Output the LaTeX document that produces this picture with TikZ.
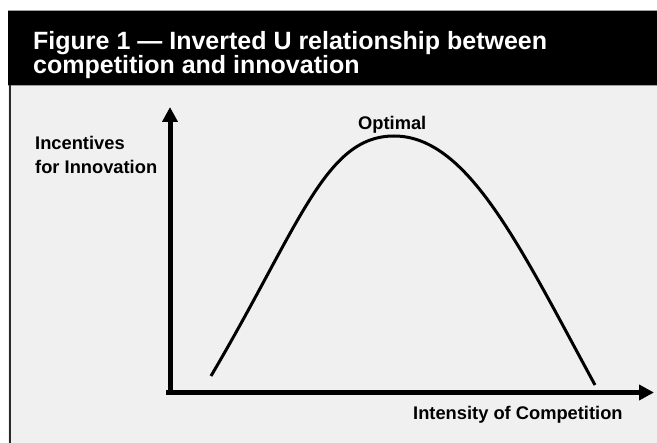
\documentclass[tikz,border=0pt]{standalone}
\usepackage{fontspec}
\setmainfont{Liberation Sans}
\usetikzlibrary{arrows.meta}
\definecolor{bodygray}{HTML}{F0F0F0}
\definecolor{edgegray}{HTML}{2A2A2A}
\definecolor{rulegray}{HTML}{A0A0A0}
\tikzset{
  axis/.style={line width=5pt, -{Triangle[length=15pt,width=15pt]}},
  curveline/.style={line width=3pt},
  titletext/.style={anchor=base west, inner sep=0pt, text=white, font=\fontsize{25}{25}\selectfont\bfseries},
  labeltext/.style={anchor=base west, inner sep=0pt, font=\fontsize{18.3}{20}\selectfont\bfseries}
}
\begin{document}
\begin{tikzpicture}[x=1pt,y=-1pt]
\useasboundingbox (0,0) rectangle (657,443);
\fill[white] (0,0) rectangle (657,443);
% header and body
\fill[black] (8,10) rectangle (657,85);
\draw[rulegray, line width=0.8pt] (8,10) -- (657,10);
\fill[bodygray] (8,85) rectangle (657,443);
\draw[rulegray, line width=0.8pt] (8,85) -- (657,85);
\draw[edgegray, line width=2.5pt] (10,85) -- (10,443);
\node[titletext] (t1) at (33,50) {Figure 1 — Inverted U relationship between};
\node[titletext] (t2) at (33,74) {competition and innovation};
% axes
\coordinate (O) at (170,392.5);
\coordinate (ytip) at (170,107);
\coordinate (xtip) at (654,392.5);
\draw[axis] ([yshift=2.5pt]O) -- (ytip);
\draw[axis] ([xshift=-4pt]O) -- (xtip);
% curve
\coordinate (c0) at (211,376);
\coordinate (peak) at (394,136);
\coordinate (c1) at (595,385);
\draw[curveline] (c0) .. controls (300,225) and (325,136) .. (peak)
  .. controls (468,136) and (520,247) .. (c1);
% labels
\node[labeltext] (ylab1) at (35,150) {Incentives};
\node[labeltext] (ylab2) at (35,174) {for Innovation};
\node[labeltext] (opt) at (358,130) {Optimal};
\node[labeltext] (xlab) at (413,420) {Intensity of Competition};
\end{tikzpicture}
\end{document}
